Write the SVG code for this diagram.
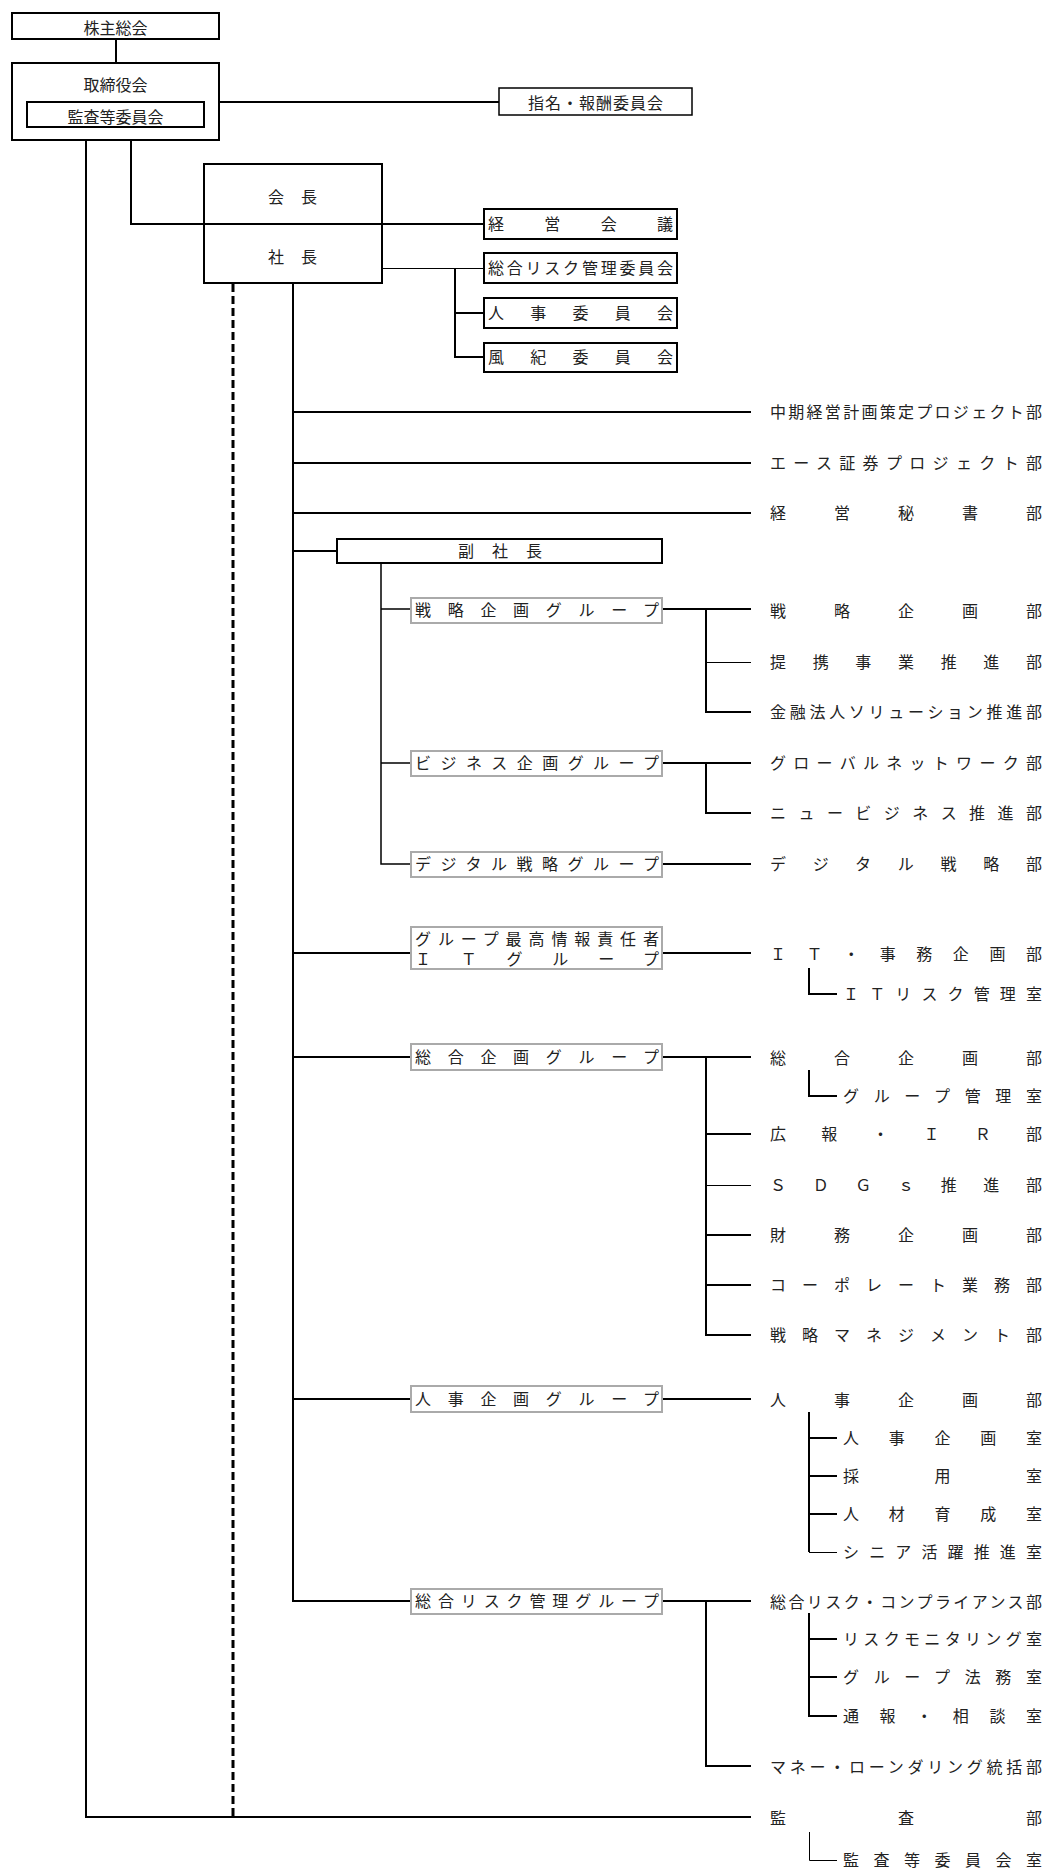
<svg xmlns="http://www.w3.org/2000/svg" width="1045" height="1870" viewBox="0 0 1045 1870">
<style>
.bg{fill:#fff}
.box{fill:#fff;stroke:#000;stroke-width:2}
.gbox{fill:#fff;stroke:#aaa;stroke-width:2}
.ln{fill:none;stroke:#000;stroke-width:2}
.thin{stroke-width:1}
.mid{stroke-width:1.5}
.dash{fill:none;stroke:#000;stroke-width:3;stroke-dasharray:8 4}
text{font-family:"Noto Sans CJK JP","Noto Sans CJK SC",sans-serif;font-size:16px;fill:#222}
.c{text-anchor:middle}
</style>
<rect class="bg" x="0" y="0" width="1045" height="1870"/>
<g id="connectors">
<path class="ln" d="M116 39V63"/>
<path class="ln" d="M219 102H499"/>
<path class="ln" d="M131 140V224H484"/>
<path class="ln thin" d="M382 268.5H484"/>
<path class="ln" d="M455 268V357H484M455 313H484"/>
<path class="ln" d="M86 127V1817H751"/>
<path class="dash" d="M233 284V1817"/>
<path class="ln" d="M293 283V1601H411M293 412H751M293 463H751M293 513H751M293 551H337M293 953H411M293 1057H411M293 1399H411"/>
<path class="ln mid" d="M381 563V864H411M381 609H411M381 763H411"/>
<path class="ln" d="M662 609H751M706 609V712H751"/>
<path class="ln thin" d="M706 662.5H751"/>
<path class="ln" d="M662 763H751M706 763V813H751M662 864H751"/>
<path class="ln" d="M662 953H751M809 968V994H837"/>
<path class="ln" d="M662 1057H751M706 1057V1335H751M706 1134H751M706 1235H751M706 1285H751M809 1070V1096H837"/>
<path class="ln thin" d="M706 1185.5H751"/>
<path class="ln" d="M662 1399H751M809 1412V1552M809 1438H837M809 1476H837M809 1514H837"/>
<path class="ln thin" d="M809 1552.5H837"/>
<path class="ln" d="M662 1601H751M706 1601V1766H751M809 1613V1716H837M809 1639H837M809 1677H837"/>
<path class="ln thin" d="M809.5 1832V1860.5H837"/>
</g>
<g id="n-kabunushi"><rect class="box" x="12" y="13" width="207" height="26"/><text class="c" x="115.5" y="34">株主総会</text></g>
<g id="n-torishimari"><rect class="box" x="12" y="63" width="207" height="77"/><text class="c" x="115.5" y="91">取締役会</text></g>
<g id="n-kansa-iinkai"><rect class="box" x="27" y="102" width="177" height="25"/><text class="c" x="115.5" y="123">監査等委員会</text></g>
<g id="n-shimei"><rect class="box" x="499" y="88" width="193" height="27" style="stroke-width:1.5"/><text x="528" y="109" textLength="135" lengthAdjust="spacing">指名・報酬委員会</text></g>
<g id="n-kaicho"><rect class="box" x="204" y="164" width="178" height="119"/><path class="ln" d="M204 224H382"/><text x="268" y="203" textLength="49" lengthAdjust="spacing">会長</text><text x="268" y="263" textLength="49" lengthAdjust="spacing">社長</text></g>
<g id="n-keiei-kaigi"><rect class="box" x="484" y="209" width="193" height="30"/><text x="488" y="230" textLength="185" lengthAdjust="spacing">経営会議</text></g>
<g id="n-risk-iinkai"><rect class="box" x="484" y="253" width="193" height="30"/><text x="488" y="274" textLength="185" lengthAdjust="spacing">総合リスク管理委員会</text></g>
<g id="n-jinji-iinkai"><rect class="box" x="484" y="298" width="193" height="30"/><text x="488" y="319" textLength="185" lengthAdjust="spacing">人事委員会</text></g>
<g id="n-fuki-iinkai"><rect class="box" x="484" y="343" width="193" height="29"/><text x="488" y="363" textLength="185" lengthAdjust="spacing">風紀委員会</text></g>
<g id="n-chuki"><text x="770" y="418" textLength="272" lengthAdjust="spacing">中期経営計画策定プロジェクト部</text></g>
<g id="n-ace"><text x="770" y="469" textLength="272" lengthAdjust="spacing">エース証券プロジェクト部</text></g>
<g id="n-hisho"><text x="770" y="519" textLength="272" lengthAdjust="spacing">経営秘書部</text></g>
<g id="n-fukushacho"><rect class="box" x="337" y="539" width="325" height="24"/><text x="458" y="557" textLength="84" lengthAdjust="spacing">副社長</text></g>
<g id="n-senryaku-g"><rect class="gbox" x="411" y="598" width="251" height="25"/><text x="415" y="616" textLength="244" lengthAdjust="spacing">戦略企画グループ</text></g>
<g id="n-senryaku-bu"><text x="770" y="617" textLength="272" lengthAdjust="spacing">戦略企画部</text></g>
<g id="n-teikei"><text x="770" y="668" textLength="272" lengthAdjust="spacing">提携事業推進部</text></g>
<g id="n-kinyu"><text x="770" y="718" textLength="272" lengthAdjust="spacing">金融法人ソリューション推進部</text></g>
<g id="n-business-g"><rect class="gbox" x="411" y="751" width="251" height="25"/><text x="415" y="769" textLength="244" lengthAdjust="spacing">ビジネス企画グループ</text></g>
<g id="n-global"><text x="770" y="769" textLength="272" lengthAdjust="spacing">グローバルネットワーク部</text></g>
<g id="n-newbiz"><text x="770" y="819" textLength="272" lengthAdjust="spacing">ニュービジネス推進部</text></g>
<g id="n-digital-g"><rect class="gbox" x="411" y="852" width="251" height="25"/><text x="415" y="870" textLength="244" lengthAdjust="spacing">デジタル戦略グループ</text></g>
<g id="n-digital-bu"><text x="770" y="870" textLength="272" lengthAdjust="spacing">デジタル戦略部</text></g>
<g id="n-it-g"><rect class="gbox" x="411" y="927" width="251" height="42"/><text x="415" y="945" textLength="244" lengthAdjust="spacing">グループ最高情報責任者</text><text x="415" y="965" textLength="244" lengthAdjust="spacing">ＩＴグループ</text></g>
<g id="n-it-bu"><text x="770" y="960" textLength="272" lengthAdjust="spacing">ＩＴ・事務企画部</text></g>
<g id="n-itrisk"><text x="843" y="1000" textLength="199" lengthAdjust="spacing">ＩＴリスク管理室</text></g>
<g id="n-sogo-g"><rect class="gbox" x="411" y="1044" width="251" height="26"/><text x="415" y="1063" textLength="244" lengthAdjust="spacing">総合企画グループ</text></g>
<g id="n-sogo-bu"><text x="770" y="1064" textLength="272" lengthAdjust="spacing">総合企画部</text></g>
<g id="n-group-kanri"><text x="843" y="1102" textLength="199" lengthAdjust="spacing">グループ管理室</text></g>
<g id="n-koho"><text x="770" y="1140" textLength="272" lengthAdjust="spacing">広報・ＩＲ部</text></g>
<g id="n-sdgs"><text x="770" y="1191" textLength="272" lengthAdjust="spacing">ＳＤＧｓ推進部</text></g>
<g id="n-zaimu"><text x="770" y="1241" textLength="272" lengthAdjust="spacing">財務企画部</text></g>
<g id="n-corporate"><text x="770" y="1291" textLength="272" lengthAdjust="spacing">コーポレート業務部</text></g>
<g id="n-senryaku-mgmt"><text x="770" y="1341" textLength="272" lengthAdjust="spacing">戦略マネジメント部</text></g>
<g id="n-jinji-g"><rect class="gbox" x="411" y="1386" width="251" height="26"/><text x="415" y="1405" textLength="244" lengthAdjust="spacing">人事企画グループ</text></g>
<g id="n-jinji-bu"><text x="770" y="1406" textLength="272" lengthAdjust="spacing">人事企画部</text></g>
<g id="n-jinji-shitsu"><text x="843" y="1444" textLength="199" lengthAdjust="spacing">人事企画室</text></g>
<g id="n-saiyo"><text x="843" y="1482" textLength="199" lengthAdjust="spacing">採用室</text></g>
<g id="n-jinzai"><text x="843" y="1520" textLength="199" lengthAdjust="spacing">人材育成室</text></g>
<g id="n-senior"><text x="843" y="1558" textLength="199" lengthAdjust="spacing">シニア活躍推進室</text></g>
<g id="n-risk-g"><rect class="gbox" x="411" y="1589" width="251" height="25"/><text x="415" y="1607" textLength="244" lengthAdjust="spacing">総合リスク管理グループ</text></g>
<g id="n-compliance"><text x="770" y="1608" textLength="272" lengthAdjust="spacing">総合リスク・コンプライアンス部</text></g>
<g id="n-monitoring"><text x="843" y="1645" textLength="199" lengthAdjust="spacing">リスクモニタリング室</text></g>
<g id="n-homu"><text x="843" y="1683" textLength="199" lengthAdjust="spacing">グループ法務室</text></g>
<g id="n-tsuho"><text x="843" y="1722" textLength="199" lengthAdjust="spacing">通報・相談室</text></g>
<g id="n-aml"><text x="770" y="1773" textLength="272" lengthAdjust="spacing">マネー・ローンダリング統括部</text></g>
<g id="n-kansa-bu"><text x="770" y="1824" textLength="272" lengthAdjust="spacing">監査部</text></g>
<g id="n-kansa-shitsu"><text x="843" y="1866" textLength="199" lengthAdjust="spacing">監査等委員会室</text></g>
</svg>
